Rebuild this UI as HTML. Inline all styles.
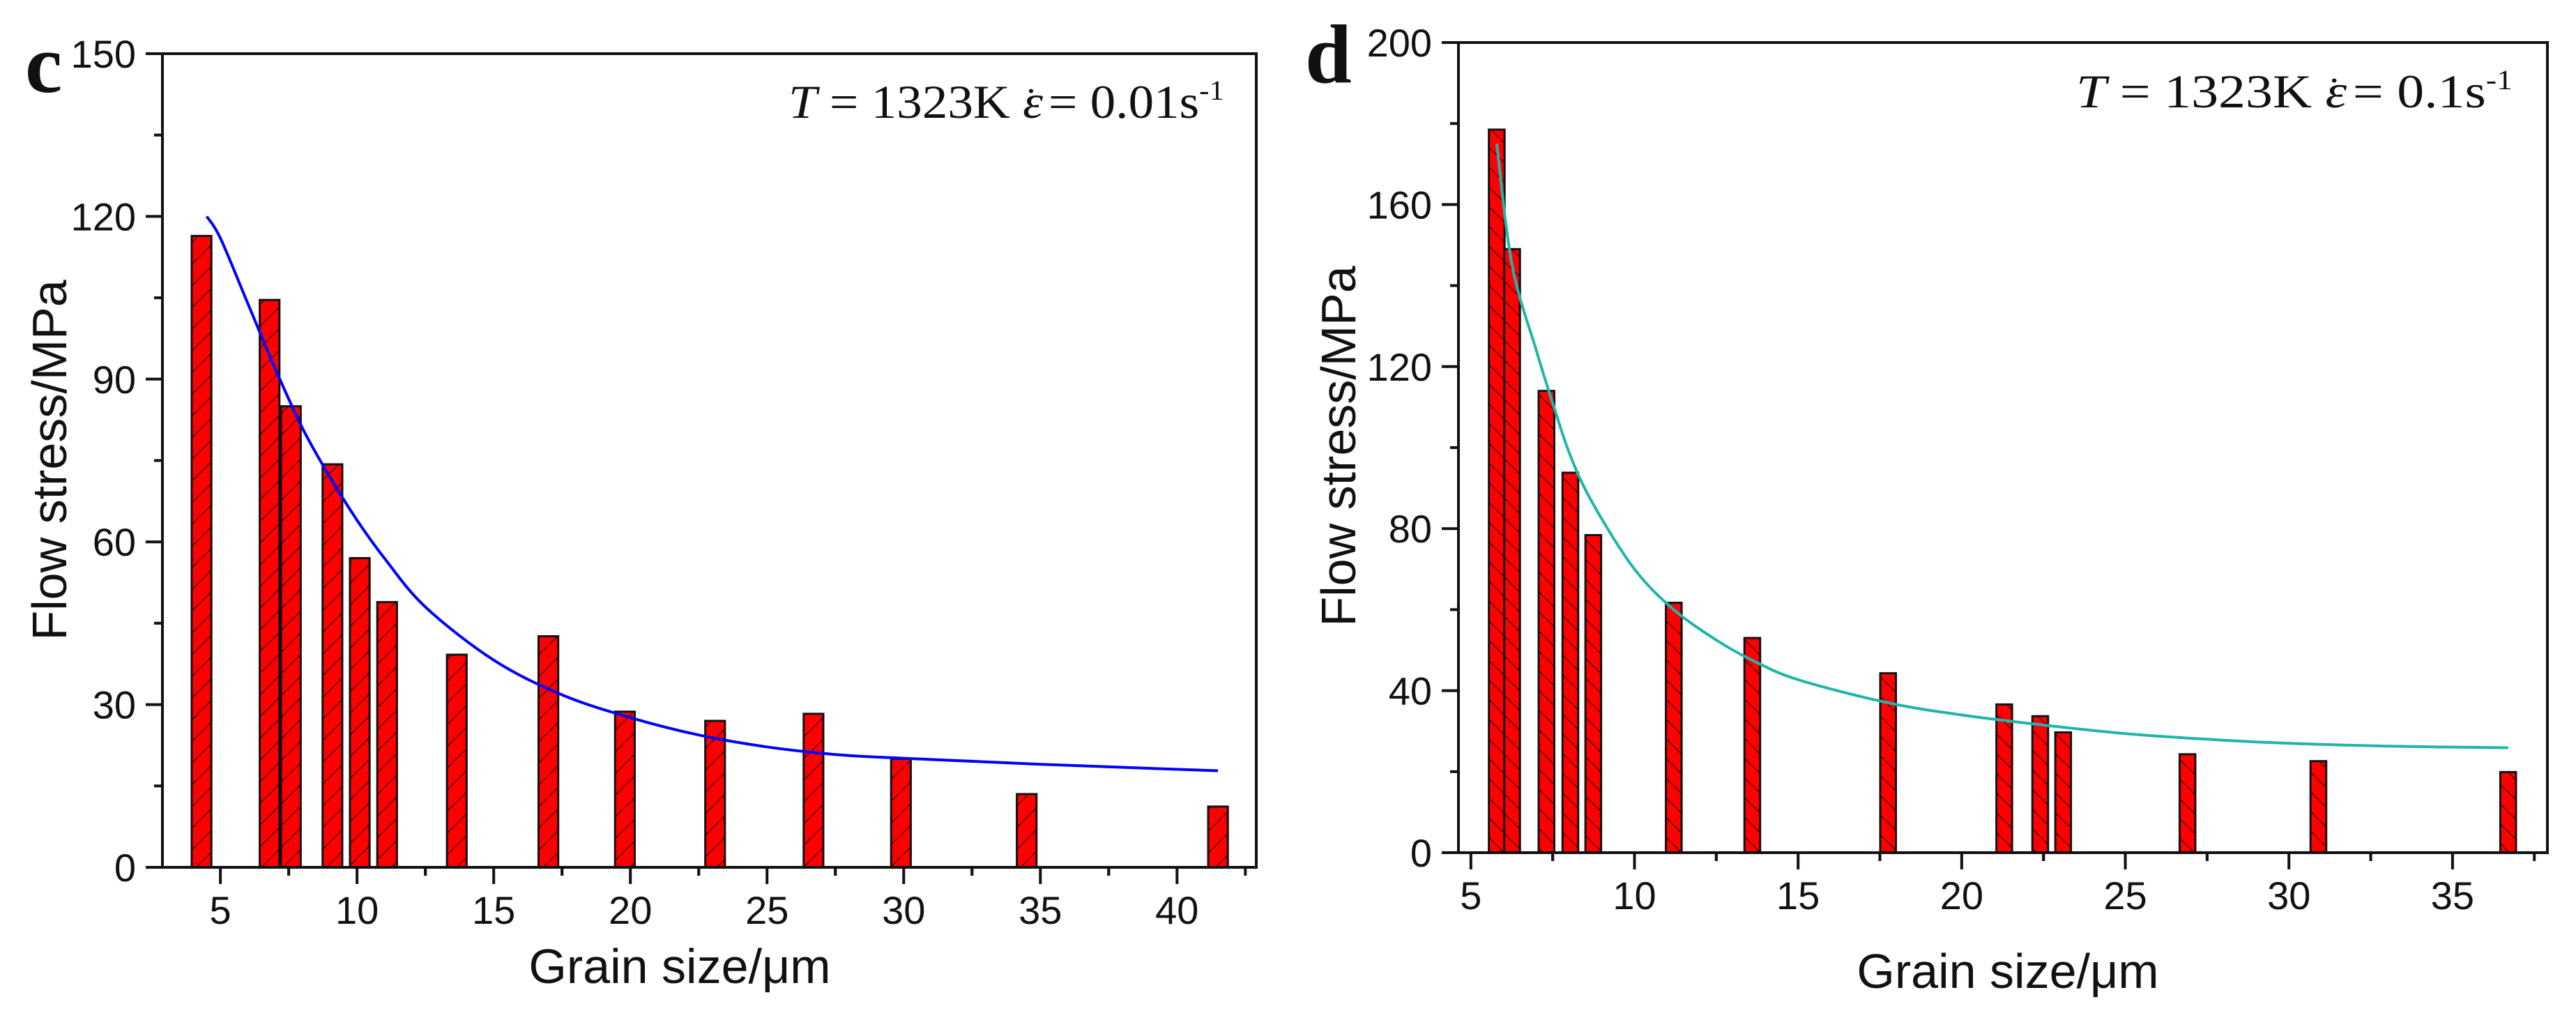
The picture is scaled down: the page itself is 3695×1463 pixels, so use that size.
<!DOCTYPE html>
<html><head><meta charset="utf-8"><style>
html,body{margin:0;padding:0;background:#fff;}
svg{display:block;}
text{font-family:"Liberation Sans",Arial,sans-serif;fill:#111;}
.serif{font-family:"Liberation Serif","Times New Roman",serif;}
</style></head><body>
<svg id="fig" width="3695" height="1463" viewBox="0 0 3695 1463" xmlns="http://www.w3.org/2000/svg">
<defs>
<pattern id="hatchL" width="22" height="22" patternUnits="userSpaceOnUse" patternTransform="rotate(45)">
<rect width="22" height="22" fill="#ff0000"/><line x1="0" y1="0" x2="0" y2="22" stroke="#300" stroke-width="2.5"/></pattern>
<pattern id="hatchR" width="20" height="20" patternUnits="userSpaceOnUse" patternTransform="rotate(-45)">
<rect width="20" height="20" fill="#ff0000"/><line x1="0" y1="0" x2="0" y2="20" stroke="#300" stroke-width="2.5"/></pattern>
</defs>
<g id="panelC"></g>
<g id="panelD"></g>
</svg>
<script>
// Panel c data
const cGrain = [4.31, 6.8, 7.58, 9.1, 10.1, 11.1, 13.65, 17.0, 19.8, 23.1, 26.7, 29.9, 34.5, 41.5];
const cStress = [116.4, 104.6, 85, 74.3, 57, 48.9, 39.2, 42.6, 28.7, 27, 28.3, 20, 13.5, 11.2];
const cFitX = [4.5, 5, 6, 7, 8, 9, 10, 11, 12.5, 15, 17.5, 20, 22.5, 25, 27.5, 30, 35, 41.5];
const cFitY = [120, 116, 104, 92, 81, 72, 64, 57, 48, 38.2, 31.8, 27.6, 24.4, 22.2, 20.8, 20.1, 19, 17.8];
const cXTicks = [5, 10, 15, 20, 25, 30, 35, 40];
const cYTicks = [0, 30, 60, 90, 120, 150];
// Panel d data
const dGrain = [5.79, 6.26, 7.31, 8.04, 8.74, 11.2, 13.6, 17.75, 21.3, 22.4, 23.1, 26.9, 30.9, 36.7];
const dStress = [178.5, 149, 114, 93.8, 78.4, 61.7, 53, 44.3, 36.6, 33.7, 29.7, 24.3, 22.6, 19.9];
const dFitX = [5.79, 6.26, 7, 7.5, 8.04, 8.74, 10, 11.2, 12.5, 13.6, 15, 17.75, 20, 22.5, 25, 27.5, 30, 33, 36.7];
const dFitY = [175, 145, 124, 111, 98, 86, 70, 60, 52.5, 47.5, 42.7, 37, 34, 31.5, 29.4, 28, 27, 26.3, 25.9];
const dXTicks = [5, 10, 15, 20, 25, 30, 35];
const dYTicks = [0, 40, 80, 120, 160, 200];

const NS = "http://www.w3.org/2000/svg";
function mk(parent, tag, attrs, txt) {
  const e = document.createElementNS(NS, tag);
  for (const k in attrs) e.setAttribute(k, attrs[k]);
  if (txt !== undefined) e.textContent = txt;
  parent.appendChild(e);
  return e;
}
function smoothPath(p) {
  let d = 'M' + p[0][0].toFixed(1) + ',' + p[0][1].toFixed(1);
  for (let i = 0; i < p.length - 1; i++) {
    const p0 = p[Math.max(i - 1, 0)], p1 = p[i], p2 = p[i + 1], p3 = p[Math.min(i + 2, p.length - 1)];
    const c1 = [p1[0] + (p2[0] - p0[0]) / 6, p1[1] + (p2[1] - p0[1]) / 6];
    const c2 = [p2[0] - (p3[0] - p1[0]) / 6, p2[1] - (p3[1] - p1[1]) / 6];
    d += ' C' + c1.map(v => v.toFixed(1)).join(',') + ' ' + c2.map(v => v.toFixed(1)).join(',') + ' ' + p2.map(v => v.toFixed(1)).join(',');
  }
  return d;
}

function panel(g, cfg) {
  const sx = v => cfg.L + (v - cfg.xmin) / (cfg.xmax - cfg.xmin) * (cfg.R - cfg.L);
  const sy = v => cfg.B - (v - cfg.ymin) / (cfg.ymax - cfg.ymin) * (cfg.B - cfg.T);
  cfg.grain.forEach((gx, i) => {
    const x0 = sx(gx - cfg.bw / 2), x1 = sx(gx + cfg.bw / 2);
    const r = mk(g, 'rect', {x: x0, y: sy(cfg.stress[i]), width: x1 - x0, height: sy(0) - sy(cfg.stress[i]),
      fill: 'url(#' + cfg.hatch + ')', stroke: '#111', 'stroke-width': 3});
    
    
  });
  const pts = cfg.fitX.map((x, i) => [sx(x), sy(cfg.fitY[i])]);
  const pl = mk(g, 'path', {d: smoothPath(pts), fill: 'none', stroke: cfg.curve, 'stroke-width': 4, 'stroke-linejoin': 'round'});
  
  
  const fr = mk(g, 'rect', {x: cfg.L, y: cfg.T, width: cfg.R - cfg.L, height: cfg.B - cfg.T, fill: 'none', stroke: '#111', 'stroke-width': 4});
  
  
  const ystep = cfg.yticks[1] - cfg.yticks[0];
  cfg.yticks.forEach(v => {
    mk(g, 'line', {x1: cfg.L - 24, x2: cfg.L, y1: sy(v), y2: sy(v), stroke: '#111', 'stroke-width': 4});
    const t = mk(g, 'text', {x: cfg.L - 38, y: sy(v) + 20, 'text-anchor': 'end', 'font-size': 56}, String(v));
    
    
    if (v + ystep / 2 <= cfg.ymax) mk(g, 'line', {x1: cfg.L - 12, x2: cfg.L, y1: sy(v + ystep / 2), y2: sy(v + ystep / 2), stroke: '#111', 'stroke-width': 4});
  });
  cfg.xticks.forEach(v => {
    mk(g, 'line', {x1: sx(v), x2: sx(v), y1: cfg.B, y2: cfg.B + 24, stroke: '#111', 'stroke-width': 4});
    const t = mk(g, 'text', {x: sx(v), y: cfg.B + 81, 'text-anchor': 'middle', 'font-size': 56}, String(v));
    
    
    [v - 2.5, v + 2.5].forEach(m => {
      if (m > cfg.xmin && m < cfg.xmax && cfg.xticks.indexOf(m) < 0)
        mk(g, 'line', {x1: sx(m), x2: sx(m), y1: cfg.B, y2: cfg.B + 12, stroke: '#111', 'stroke-width': 4});
    });
  });
  const xt = mk(g, 'text', {x: cfg.xtX, y: cfg.xtY, 'text-anchor': 'middle', 'font-size': 70}, 'Grain size/\u03bcm');
  
  
  const yt = mk(g, 'text', {x: 0, y: 0, 'text-anchor': 'middle', 'font-size': 70,
    transform: 'translate(' + cfg.ytX + ',' + cfg.ytY + ') rotate(-90)'}, 'Flow stress/MPa');
  
  
  const pl2 = mk(g, 'text', {x: cfg.letX, y: cfg.letY, 'font-size': 120, 'font-weight': 'bold', class: 'serif'}, cfg.letter);
  
  
  const an = mk(g, 'text', {x: cfg.anX, y: cfg.anY, 'font-size': 68, class: 'serif', textLength: cfg.anW, lengthAdjust: 'spacingAndGlyphs'});
  
  
  mk(an, 'tspan', {'font-style': 'italic'}, 'T');
  mk(an, 'tspan', {}, ' = 1323K   ');
  mk(an, 'tspan', {'font-style': 'italic'}, '\u03b5');
  mk(an, 'tspan', {dx: -22, dy: -36, 'font-size': 50}, '.');
  mk(an, 'tspan', {dy: 36}, ' = ' + cfg.rate + 's');
  mk(an, 'tspan', {dy: -26, 'font-size': 40}, '-1');
}

panel(document.getElementById('panelC'), {
  L: 233, R: 1802, T: 77, B: 1244, xmin: 2.88, xmax: 42.9, ymin: 0, ymax: 150,
  grain: cGrain, stress: cStress, fitX: cFitX, fitY: cFitY, xticks: cXTicks, yticks: cYTicks,
  bw: 0.72, hatch: 'hatchL', curve: '#0000ff',
  xtX: 975, xtY: 1410, ytX: 95, ytY: 660, letter: 'c', letX: 36, letY: 132,
  anX: 1131, anY: 169, anW: 625, rate: '0.01'
});
panel(document.getElementById('panelD'), {
  L: 2092, R: 3654, T: 61, B: 1223, xmin: 4.62, xmax: 37.9, ymin: 0, ymax: 200,
  grain: dGrain, stress: dStress, fitX: dFitX, fitY: dFitY, xticks: dXTicks, yticks: dYTicks,
  bw: 0.48, hatch: 'hatchR', curve: '#20b5aa',
  xtX: 2880, xtY: 1417, ytX: 1944, ytY: 640, letter: 'd', letX: 1872, letY: 118,
  anX: 2978, anY: 154, anW: 626, rate: '0.1'
});
</script>
</body></html>
